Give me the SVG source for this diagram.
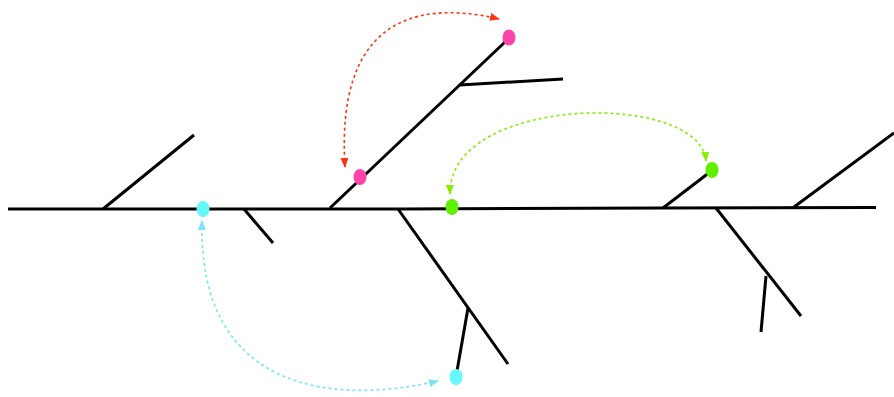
<svg xmlns="http://www.w3.org/2000/svg" width="894" height="397" viewBox="0 0 894 397">
<style>
.br{stroke:#000;stroke-width:3;fill:none;stroke-linecap:butt}
.cn{fill:none;stroke-width:1.6;stroke-dasharray:3 3}
</style>
<defs>
<marker id="mr" viewBox="0 0 10 10" refX="9" refY="5" markerWidth="10" markerHeight="8" markerUnits="userSpaceOnUse" orient="auto-start-reverse" preserveAspectRatio="none"><path d="M0,0L10,5L0,10z" fill="#ff3311"/></marker>
<marker id="mg" viewBox="0 0 10 10" refX="9" refY="5" markerWidth="10" markerHeight="8" markerUnits="userSpaceOnUse" orient="auto-start-reverse" preserveAspectRatio="none"><path d="M0,0L10,5L0,10z" fill="#88ee00"/></marker>
<marker id="mc" viewBox="0 0 10 10" refX="9" refY="5" markerWidth="10" markerHeight="8" markerUnits="userSpaceOnUse" orient="auto-start-reverse" preserveAspectRatio="none"><path d="M0,0L10,5L0,10z" fill="#77e6f2"/></marker>
</defs>
<g id="skeleton">
<path class="br" d="M8,209 L400,209 L663,208 L876,207.5"/>
<path class="br" d="M103,209 L194,135"/>
<path class="br" d="M244,209 L273,243"/>
<path class="br" d="M330,208 L505,42"/>
<path class="br" d="M460,85 L563,79"/>
<path class="br" d="M398,209 L508,364"/>
<path class="br" d="M468,308 L457,371"/>
<path class="br" d="M663,208 L710,172"/>
<path class="br" d="M716,208 L801,316"/>
<path class="br" d="M766,276 L761,332"/>
<path class="br" d="M794,207 L894,133"/>
</g>
<g id="node-pink-low"><ellipse cx="360" cy="177" rx="6.5" ry="8" fill="#ff44aa"/></g>
<g id="node-pink-top"><ellipse cx="509" cy="37.5" rx="6.5" ry="8" fill="#ff44aa"/></g>
<g id="node-green-main"><ellipse cx="452" cy="207" rx="6.5" ry="8" fill="#5ef000"/></g>
<g id="node-green-branch"><ellipse cx="712" cy="170" rx="6.5" ry="8" fill="#5ef000"/></g>
<g id="node-cyan-main"><ellipse cx="203" cy="209" rx="6.5" ry="8" fill="#66f8f8"/></g>
<g id="node-cyan-branch"><ellipse cx="456" cy="377" rx="6.5" ry="8" fill="#66f8f8"/></g>
<g id="connectors">
<path class="cn" stroke="#ff3311" d="M345,167 C336,25 410,-2 499,19" marker-start="url(#mr)" marker-end="url(#mr)"/>
<path class="cn" stroke="#88ee00" d="M450,194 C448,95 700,90 706,161" marker-start="url(#mg)" marker-end="url(#mg)"/>
<path class="cn" stroke="#77e6f2" d="M202,221 C198,390 330,406 438,381" marker-start="url(#mc)" marker-end="url(#mc)"/>
</g>
</svg>
